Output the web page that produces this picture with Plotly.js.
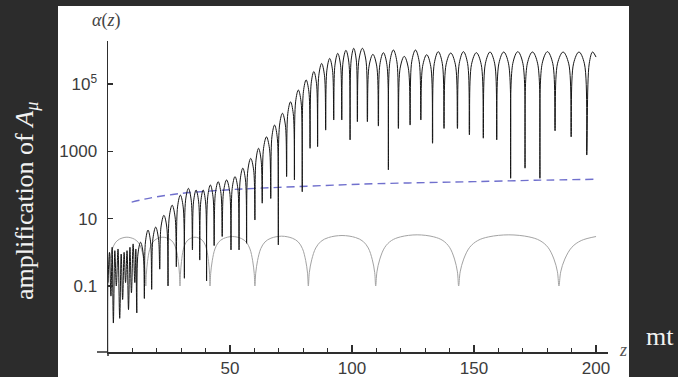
<!DOCTYPE html>
<html><head><meta charset="utf-8">
<script src="https://cdn.plot.ly/plotly-3.0.1.min.js"></script>
<style>html,body{margin:0;padding:0;background:#2c2c2c;}#chart{width:678px;height:377px;}</style>
</head><body><div id="chart"></div>
<script>
// values are log10 of the amplification alpha(z)
var blackZ = [0,0.6,1.2,1.7,2.2,2.8,3.4,4.1,4.8,5.4,6.0,6.6,7.2,7.8,8.4,9.0,9.6,10.3,11.0,11.4,11.8,
 12.27,13.35,14.44,14.9, 15.35,16.4,17.45,17.9, 18.4,19.55,20.7,21.2, 21.71,22.9,24.09,24.6,
 25.11,26.3,27.49,28.0, 28.5,29.65,30.8,31.3, 31.8,32.95,34.1,34.6, 35.05,36.1,37.15,37.6,
 38.02,39.0,39.98,40.4, 40.87,41.95,43.04,43.5, 44.0,45.15,46.3,46.8, 47.34,48.6,49.86,50.4,
 50.9,52.05,53.2,53.7, 54.17,55.25,56.34,56.8, 57.31,58.5,59.69,60.2, 60.65,61.7,62.75,63.2,
 63.73,64.95,66.18,66.7, 67.17,68.25,69.34,69.8, 70.31,71.5,72.69,73.2, 73.68,74.8,75.92,76.4,
 76.88,78.0,79.12,79.6, 80.08,81.2,82.32,82.8, 83.27,84.35,85.44,85.9, 86.4,87.55,88.7,89.2,
 89.7,90.85,92.0,92.5, 93.0,94.15,95.3,95.8, 96.31,97.5,98.69,99.2, 99.65,100.7,101.75,102.2,
 102.82,104.25,105.69,106.3, 106.98,108.55,110.13,110.8, 111.42,112.85,114.29,114.9,
 115.52,116.95,118.39,119.0, 119.72,121.4,123.08,123.8, 124.46,126.0,127.54,128.2,
 128.92,130.6,132.28,133.0, 133.71,135.35,137.0,137.7, 138.53,140.45,142.38,143.2,
 143.94,145.65,147.37,148.1, 148.96,150.95,152.95,153.8, 154.63,156.55,158.48,159.3,
 160.16,162.15,164.15,165.0, 165.89,167.95,170.02,170.9, 171.82,173.95,176.09,177.0,
 177.93,180.1,182.27,183.2, 184.19,186.5,188.81,189.8, 190.76,193.0,195.24,196.2,
 197.2,198.6,200.0];
var blackLog = [-0.9,0.0,-1.3,0.15,-2.1,0.05,-1.0,0.1,-1.96,-0.05,-1.4,0.0,-0.9,0.05,-1.7,0.15,-1.2,0.25,-0.9,0.1,-1.8,
 -0.05,0.3,-0.05,-1.37, 0.31,0.66,0.31,-1.1, 0.4,0.75,0.4,-0.5, 0.75,1.1,0.75,-1.0,
 1.05,1.4,1.05,-0.43, 1.35,1.7,1.35,-0.77, 1.55,1.9,1.55,0.07, 1.5,1.85,1.5,-0.23,
 1.5,1.85,1.5,-0.85, 1.65,2.0,1.65,0.2, 1.75,2.1,1.75,0.47, 1.8,2.15,1.8,0.07,
 1.9,2.25,1.9,0.07, 2.15,2.5,2.15,0.27, 2.44,2.79,2.44,0.96, 2.74,3.09,2.74,1.46,
 3.08,3.43,3.08,1.6, 3.43,3.78,3.43,0.22, 3.78,4.13,3.78,2.25, 4.12,4.47,4.12,2.15,
 4.47,4.82,4.47,1.8, 4.77,5.12,4.77,3.09, 5.02,5.37,5.02,3.14, 5.26,5.61,5.26,3.63,
 5.41,5.76,5.41,3.93, 5.56,5.91,5.56,3.93, 5.65,6.0,5.65,3.34, 5.71,6.06,5.71,3.88,
 5.71,6.06,5.71,3.88, 5.53,5.88,5.53,3.75, 5.58,5.93,5.58,2.45,
 5.66,6.01,5.66,3.68, 5.47,5.82,5.47,3.78, 5.66,6.01,5.66,3.93,
 5.52,5.87,5.52,3.24, 5.61,5.96,5.61,3.68, 5.57,5.92,5.57,3.68,
 5.61,5.96,5.61,3.49, 5.58,5.93,5.58,3.39, 5.6,5.95,5.6,3.34,
 5.6,5.95,5.6,2.2, 5.61,5.96,5.61,2.5, 5.6,5.95,5.6,2.2,
 5.61,5.96,5.61,3.61, 5.6,5.95,5.6,3.43, 5.6,5.95,5.6,2.89,
 5.6,5.95,5.8];

var grayZ = [0,0.23,0.78,1.7,2.95,4.65,7.75,10.85,12.56,13.8,14.73,15.27,15.5,
 15.71,16.2,17.04,18.16,19.7,22.5,25.3,26.84,27.96,28.8,29.29,29.5,
 29.68,30.12,30.85,31.84,33.19,35.65,38.11,39.46,40.45,41.19,41.62,41.8,
 42.08,42.72,43.82,45.3,47.32,51.0,54.68,56.7,58.18,59.28,59.92,60.2,
 60.53,61.3,62.61,64.36,66.77,71.15,75.53,77.94,79.69,81.0,81.77,82.1,
 82.51,83.48,85.14,87.34,90.38,95.9,101.42,104.46,106.66,108.32,109.29,109.7,
 110.21,111.4,113.44,116.16,119.9,126.7,133.5,137.24,139.96,142.0,143.19,143.7,
 144.32,145.76,148.22,151.51,156.03,164.25,172.47,176.99,180.28,182.75,184.18,184.8,
 185.52,187.2,190.08,193.92,200];
var grayLog = [-2.96,-0.65,-0.27,0.08,0.28,0.39,0.45,0.39,0.28,0.08,-0.27,-0.65,-1.0,
 -0.65,-0.27,0.08,0.28,0.39,0.45,0.39,0.28,0.08,-0.27,-0.65,-1.0,
 -0.65,-0.27,0.08,0.28,0.39,0.45,0.39,0.28,0.08,-0.27,-0.65,-1.0,
 -0.63,-0.25,0.10,0.30,0.41,0.47,0.41,0.30,0.10,-0.25,-0.63,-1.0,
 -0.62,-0.24,0.11,0.31,0.42,0.48,0.42,0.31,0.11,-0.24,-0.62,-1.0,
 -0.6,-0.22,0.13,0.33,0.44,0.5,0.44,0.33,0.13,-0.22,-0.6,-1.0,
 -0.58,-0.2,0.15,0.35,0.46,0.52,0.46,0.35,0.15,-0.2,-0.58,-1.0,
 -0.58,-0.2,0.15,0.35,0.46,0.52,0.46,0.35,0.15,-0.2,-0.58,-1.0,
 -0.58,-0.2,0.15,0.35,0.47];

var dashZ = [9.7,15,20,30,40,52,70,94,110,130,150,175,200];
var dashLog = [1.49,1.58,1.65,1.75,1.81,1.87,1.93,2.0,2.04,2.07,2.1,2.14,2.17];

var xTickVals = [50,100,150,200];
var yTickVals = [-1,1,3,5];
var yTickText = ['0.1','10','1000','10<sup>5</sup>'];

var traces = [
 {x: grayZ, y: grayLog, mode:'lines', line:{color:'#a3a3a3', width:1, shape:'spline'}, hoverinfo:'skip'},
 {x: dashZ, y: dashLog, mode:'lines', line:{color:'rgb(112,112,205)', width:1.4, dash:'8px,5px', shape:'spline'}, hoverinfo:'skip'},
 {x: blackZ, y: blackLog, mode:'lines', line:{color:'#161616', width:1, shape:'spline'}, hoverinfo:'skip'}
];

var axisCol = '#2e2e2e';
var layout = {
 width:678, height:377,
 margin:{l:108, r:70, t:41, b:25, pad:0},
 paper_bgcolor:'#2c2c2c', plot_bgcolor:'rgba(0,0,0,0)',
 showlegend:false,
 font:{family:'Liberation Sans, Arial, sans-serif', color:'#3c3c3c', size:17},
 xaxis:{range:[0,204.9], showgrid:false, zeroline:false, showline:true, linecolor:axisCol, linewidth:1.5,
   ticks:'inside', ticklen:7, tickwidth:1.2, tickcolor:axisCol, tickvals:xTickVals, ticklabelstandoff:0,
   minor:{dtick:10, tick0:0, ticks:'inside', ticklen:4, tickwidth:1, tickcolor:axisCol},
   tickfont:{family:'Liberation Sans, Arial, sans-serif', size:17, color:'#3c3c3c'}},
 yaxis:{range:[-2.96,6.277], showgrid:false, zeroline:false, showline:true, linecolor:axisCol, linewidth:1.5,
   ticks:'inside', ticklen:5, tickwidth:1.2, tickcolor:axisCol, tickvals:yTickVals, ticktext:yTickText, ticklabelstandoff:6,
   tickfont:{family:'Liberation Sans, Arial, sans-serif', size:17, color:'#3c3c3c'}},
 shapes:[
  {type:'rect', xref:'paper', yref:'paper', x0:-0.1, x1:1.042, y0:-0.1, y1:1.1125, fillcolor:'#ffffff', line:{width:0}, layer:'below'},
  {type:'line', xref:'paper', yref:'paper', x0:-0.022, x1:0, y0:0, y1:0, line:{color:axisCol, width:1.5}},
  {type:'line', xref:'paper', yref:'paper', x0:0, x1:0, y0:0, y1:-0.013, line:{color:axisCol, width:1.5}}
 ],
 annotations:[
  {xref:'paper', yref:'paper', x:-0.004, y:1.0675, xanchor:'center', yanchor:'middle', showarrow:false,
   text:'<i>α</i>(<i>z</i>)', font:{family:'Liberation Serif, DejaVu Serif, serif', size:18, color:'#444'}},
  {xref:'paper', yref:'paper', x:1.03, y:0.006, xanchor:'center', yanchor:'middle', showarrow:false,
   text:'<i>z</i>', font:{family:'Liberation Serif, DejaVu Serif, serif', size:18, color:'#555'}},
  {xref:'paper', yref:'paper', x:-0.164, y:0.4855, xanchor:'center', yanchor:'middle', showarrow:false, textangle:-90,
   text:'amplification of <i>A</i><sub><i>μ</i></sub>', font:{family:'Liberation Serif, DejaVu Serif, serif', size:26, color:'#f2f2f2'}},
  {xref:'paper', yref:'paper', x:1.104, y:0.0514, xanchor:'center', yanchor:'middle', showarrow:false,
   text:'mt', font:{family:'Liberation Serif, DejaVu Serif, serif', size:26, color:'#f2f2f2'}}
 ]
};
Plotly.newPlot('chart', traces, layout, {staticPlot:true, displayModeBar:false});
</script></body></html>
